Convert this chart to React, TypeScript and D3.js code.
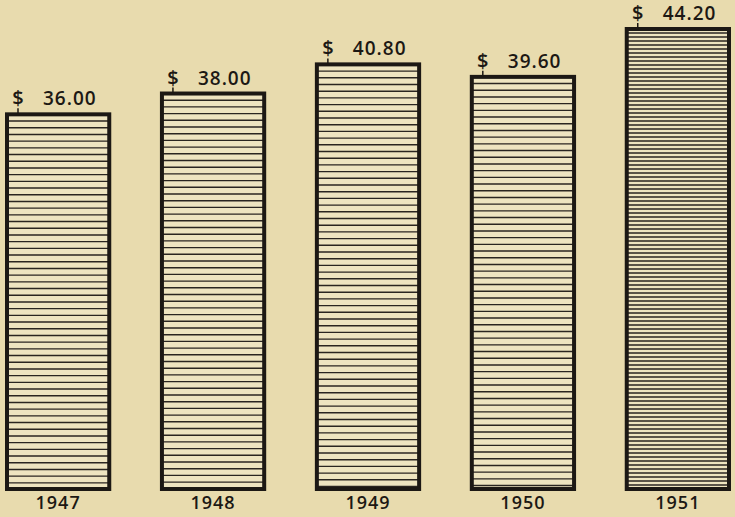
import * as d3 from "d3";

const years = ["1947", "1948", "1949", "1950", "1951"];
const values = [36.0, 38.0, 40.8, 39.6, 44.2];
const hatchSpacing = [6.7, 6.7, 6.7, 6.7, 4];

const width = 735;
const height = 517;
const baseline = 489;

export default function App() {
  const x = d3
    .scaleBand<string>()
    .domain(years)
    .range([7, 729])
    .paddingInner(0.34)
    .paddingOuter(0);

  const y = d3.scaleLinear().domain([0, 44.2]).range([baseline, 29]);

  const bw = x.bandwidth();
  const font = "'Open Sans', 'DejaVu Sans', sans-serif";

  return (
    <div style={{ position: "fixed", left: 0, top: 0, width, height, background: "#e8dbae" }}>
      <svg width={width} height={height} style={{ display: "block" }}>
        <rect x={0} y={0} width={width} height={height} fill="#e8dbae" />
        {years.map((yr, i) => {
          const x0 = x(yr) as number;
          const top = y(values[i]);
          const step = hatchSpacing[i];
          const lines = d3.range(top + step, baseline - 1, step);
          return (
            <g key={yr}>
              <rect x={x0} y={top} width={bw} height={baseline - top} fill="#eee4c0" />
              {lines.map((ly, j) => (
                <line
                  key={j}
                  x1={x0}
                  x2={x0 + bw}
                  y1={ly}
                  y2={ly}
                  stroke="#2a2520"
                  strokeWidth={i === 4 ? 1.6 : 1.4}
                />
              ))}
              <rect
                x={x0}
                y={top}
                width={bw}
                height={baseline - top}
                fill="none"
                stroke="#1c1814"
                strokeWidth={4}
              />
              <line
                x1={x0 + 11}
                x2={x0 + 11}
                y1={top - 6}
                y2={top}
                stroke="#1c1814"
                strokeWidth={1.5}
              />
              <text
                x={x0 + 11}
                y={top - 9}
                textAnchor="middle"
                fontFamily={font}
                fontSize={20}
                fontWeight={600}
                fill="#1c1814"
              >
                $
              </text>
              <text
                x={x0 + 36}
                y={top - 9}
                fontFamily={font}
                fontSize={19}
                fontWeight={600}
                letterSpacing={1}
                fill="#1c1814"
              >
                {values[i].toFixed(2)}
              </text>
              <text
                x={x0 + bw / 2}
                y={baseline + 20}
                textAnchor="middle"
                fontFamily={font}
                fontSize={18}
                fontWeight={600}
                letterSpacing={1}
                fill="#1c1814"
              >
                {yr}
              </text>
            </g>
          );
        })}
      </svg>
    </div>
  );
}
